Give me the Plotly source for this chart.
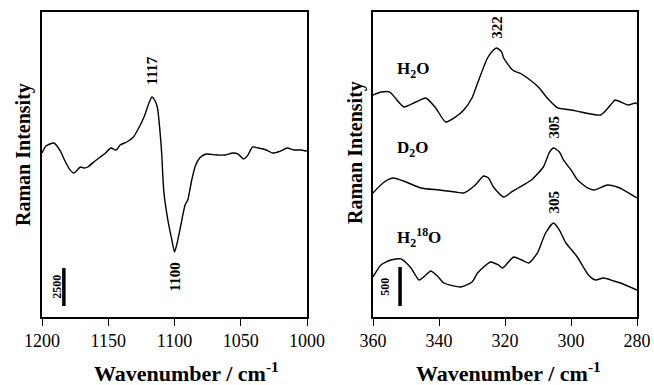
import plotly.graph_objects as go

# ---- Left panel: difference spectrum (1200-1000 cm-1) ----
left_wn = [1200, 1197, 1191, 1186, 1183, 1179, 1176, 1171, 1168, 1165.5, 1160, 1156, 1152, 1148, 1144, 1141,
           1136, 1131, 1127, 1123, 1119, 1117, 1115, 1113, 1110, 1108, 1105, 1102, 1100, 1098, 1095.5,
           1092, 1090, 1087, 1084, 1081, 1078, 1075, 1068, 1062, 1056, 1052, 1048, 1045, 1041, 1037,
           1033, 1029, 1026, 1020, 1015, 1010, 1005, 1000]
left_int = [10790, 11250, 11450, 10900, 10330, 9700, 9475, 9870, 9800, 9870, 10265, 10530, 10790, 11120, 10990, 11320,
            11515, 11845, 12435, 13160, 14150, 14475, 14280, 13820, 11200, 8200, 6380, 5070, 4280, 4870, 5920,
            7370, 7700, 9015, 10000, 10460, 10660, 10725, 10660, 10660, 10790, 10725, 10400, 10600, 11190, 11120,
            11055, 10920, 10790, 10920, 11120, 10990, 10990, 10920]

# ---- Right panel: three spectra (360-280 cm-1) ----
h2o_wn = [360, 357.5, 355, 353, 350.6, 347, 344, 341, 338, 335, 332.5, 330, 328.3, 325.3, 323.5, 322.5, 321,
          320.4, 317.7, 315, 313.2, 309.9, 307.2, 304, 300, 297, 291, 288, 286.6, 282.7, 280.5, 280]
h2o_int = [2846, 2885, 2885, 2795, 2692, 2756, 2808, 2680, 2500, 2564, 2654, 2808, 3000, 3320, 3423, 3449, 3397,
           3320, 3167, 3115, 3064, 2949, 2808, 2680, 2654, 2628, 2590, 2718, 2782, 2718, 2743, 2731]

d2o_wn = [360, 357, 354, 350, 345.5, 340, 335, 332.5, 329, 326.5, 325, 323.5, 320.4, 318, 316, 312, 308.4,
          306.5, 305.3, 303.5, 302.3, 300, 298, 295, 293, 289, 286, 284, 280]
d2o_int = [1590, 1718, 1782, 1731, 1654, 1628, 1603, 1590, 1692, 1808, 1782, 1667, 1538, 1603, 1654, 1756, 1923,
           2115, 2167, 2115, 2013, 1885, 1756, 1654, 1628, 1692, 1667, 1628, 1526]

h218o_wn = [360, 357.6, 354.6, 351.5, 348.5, 346, 344, 342.5, 340.5, 338.5, 333.4, 330, 328.3, 324.4, 322,
            320.7, 317.4, 315, 312.8, 310.2, 307.7, 305.3, 303.5, 301.7, 298.1, 294.7, 292.6, 290.2, 287, 285, 280]
h218o_int = [513, 667, 731, 744, 628, 474, 538, 590, 526, 436, 385, 449, 564, 705, 667,
             628, 769, 731, 692, 820, 1077, 1205, 1115, 961, 769, 538, 474, 500, 462, 436, 346]

left_ticks = [1200, 1150, 1100, 1050, 1000]
right_ticks = [360, 340, 320, 300, 280]

SERIF = "Liberation Serif"

fig = go.Figure()
line = dict(color="black", width=1.4, shape="spline", smoothing=0.6)
fig.add_trace(go.Scatter(x=left_wn, y=left_int, mode="lines", line=line, xaxis="x", yaxis="y", showlegend=False))
for wn, it in [(h2o_wn, h2o_int), (d2o_wn, d2o_int), (h218o_wn, h218o_int)]:
    fig.add_trace(go.Scatter(x=wn, y=it, mode="lines", line=line, xaxis="x2", yaxis="y2", showlegend=False))

W, H = 654, 385
ydom = [1 - 317 / H, 1 - 12 / H]
xcommon = dict(showline=True, linecolor="black", linewidth=1.5, mirror=True, showgrid=False,
               zeroline=False, ticks="outside", ticklen=7, tickwidth=1.2, tickcolor="black", automargin=False,
               tickfont=dict(family=SERIF, size=18, color="black"))
ycommon = dict(showline=True, linecolor="black", linewidth=1.5, mirror=True, showgrid=False,
               zeroline=False, ticks="", showticklabels=False, automargin=False)
fig.update_layout(
    template="none",
    width=W, height=H, margin=dict(l=0, r=0, t=0, b=0, pad=0),
    paper_bgcolor="white", plot_bgcolor="white",
    font=dict(family=SERIF, color="black"),
    xaxis=dict(domain=[42 / W, 307 / W], range=[1200, 1000], tickvals=left_ticks, anchor="y", **xcommon),
    yaxis=dict(domain=ydom, range=[0, 20070], anchor="x", **ycommon),
    xaxis2=dict(domain=[373 / W, 637 / W], range=[360, 280], tickvals=right_ticks, anchor="y2", **xcommon),
    yaxis2=dict(domain=ydom, range=[0, 3910], anchor="x2", **ycommon),
)

# scale bars
fig.add_shape(type="line", xref="x", yref="y", x0=1183.5, x1=1183.5, y0=720, y1=3220,
              line=dict(color="black", width=3.5))
fig.add_shape(type="line", xref="x2", yref="y2", x0=351.8, x1=351.8, y0=141, y1=641,
              line=dict(color="black", width=3.5))

bold = dict(family=SERIF, color="black")
C = dict(showarrow=False, xanchor="center", yanchor="middle")
ann = [
    dict(x=1117, y=14475, xref="x", yref="y", text="<b>1117</b>", textangle=-90,
         yshift=27, font=dict(size=15, **bold), **C),
    dict(x=1100, y=4280, xref="x", yref="y", text="<b>1100</b>", textangle=-90,
         yshift=-25, font=dict(size=15, **bold), **C),
    dict(x=1189, y=1970, xref="x", yref="y", text="<b>2500</b>", textangle=-90,
         font=dict(size=12, **bold), **C),
    dict(x=322.5, y=3449, xref="x2", yref="y2", text="<b>322</b>", textangle=-90,
         yshift=21, font=dict(size=15, **bold), **C),
    dict(x=305.3, y=2167, xref="x2", yref="y2", text="<b>305</b>", textangle=-90,
         yshift=21, font=dict(size=15, **bold), **C),
    dict(x=305.3, y=1205, xref="x2", yref="y2", text="<b>305</b>", textangle=-90,
         yshift=21, font=dict(size=15, **bold), **C),
    dict(x=356.6, y=391, xref="x2", yref="y2", text="<b>500</b>", textangle=-90,
         font=dict(size=12, **bold), **C),
    dict(x=395 / W, y=1 - 70 / H, xref="paper", yref="paper", text="<b>H<sub>2</sub>O</b>",
         font=dict(size=17, **bold), showarrow=False, xanchor="left", yanchor="middle"),
    dict(x=395 / W, y=1 - 149 / H, xref="paper", yref="paper", text="<b>D<sub>2</sub>O</b>",
         font=dict(size=17, **bold), showarrow=False, xanchor="left", yanchor="middle"),
    dict(x=395 / W, y=1 - 237 / H, xref="paper", yref="paper",
         text="<b>H<sub>2</sub><sup>18</sup>O</b>", font=dict(size=17, **bold),
         showarrow=False, xanchor="left", yanchor="middle"),
    dict(x=186 / W, y=1 - 372 / H, xref="paper", yref="paper", text="<b>Wavenumber / cm<sup>-1</sup></b>",
         font=dict(size=22, **bold), **C),
    dict(x=508 / W, y=1 - 372 / H, xref="paper", yref="paper", text="<b>Wavenumber / cm<sup>-1</sup></b>",
         font=dict(size=22, **bold), **C),
    dict(x=23 / W, y=1 - 155 / H, xref="paper", yref="paper", text="<b>Raman Intensity</b>", textangle=-90,
         font=dict(size=20, **bold), **C),
    dict(x=355 / W, y=1 - 153 / H, xref="paper", yref="paper", text="<b>Raman Intensity</b>", textangle=-90,
         font=dict(size=20, **bold), **C),
]
fig.update_layout(annotations=ann)

fig.write_html("out.html", config={"displayModeBar": False},
               post_script="document.body.style.margin='0';document.body.style.overflow='hidden';")
